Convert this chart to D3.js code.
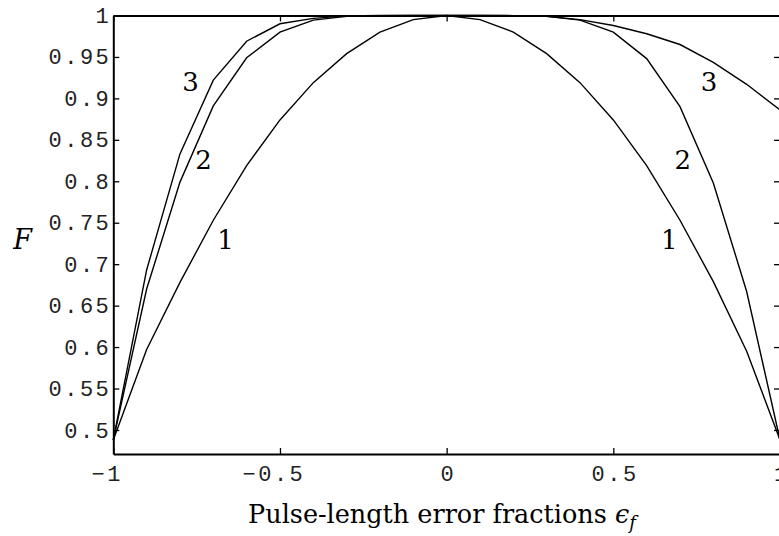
<!DOCTYPE html>
<html>
<head>
<meta charset="utf-8">
<script src="https://cdn.jsdelivr.net/npm/d3@7"></script>
<style>
  html, body { margin: 0; padding: 0; background: #fff; }
  svg { display: block; }
</style>
</head>
<body>
<svg id="chart" width="779" height="536"></svg>
<script>
// ---- data ----
const epsValues = [-1, -0.9, -0.8, -0.7, -0.6, -0.5, -0.4, -0.3, -0.2, -0.1, 0,
                   0.1, 0.2, 0.3, 0.4, 0.5, 0.6, 0.7, 0.8, 0.9, 1];
const fidelity1 = [0.488, 0.597, 0.678, 0.753, 0.819, 0.874, 0.919, 0.954, 0.980, 0.995, 1,
                   0.995, 0.980, 0.954, 0.919, 0.874, 0.819, 0.753, 0.679, 0.595, 0.488];
const fidelity2 = [0.488, 0.670, 0.799, 0.891, 0.949, 0.980, 0.9944, 0.999, 0.9999, 1, 1,
                   1, 0.9999, 0.999, 0.9944, 0.980, 0.948, 0.890, 0.798, 0.667, 0.488];
const fidelity3 = [0.488, 0.693, 0.833, 0.922, 0.969, 0.990, 0.9965, 0.9995, 1, 1, 1,
                   1, 0.9998, 0.999, 0.995, 0.988, 0.978, 0.965, 0.9435, 0.917, 0.886];
const seriesNames = ["1", "2", "3"];
const xTickValues = [-1, -0.5, 0, 0.5, 1];
const xTickLabels = ["\u22121", "\u22120.5", "0", "0.5", "1"];
const yTickValues = [0.5, 0.55, 0.6, 0.65, 0.7, 0.75, 0.8, 0.85, 0.9, 0.95, 1];
const yTickLabels = ["0.5", "0.55", "0.6", "0.65", "0.7", "0.75", "0.8", "0.85", "0.9", "0.95", "1"];
// curve label anchor points (data coordinates)
const labelLeftX = [-0.663, -0.729, -0.768];
const labelLeftY = [0.729, 0.826, 0.920];
const labelRightX = [0.668, 0.708, 0.787];
const labelRightY = [0.729, 0.826, 0.920];
const xAxisTitle = "Pulse-length error fractions ";
const yAxisTitle = "F";

// ---- layout ----
(function () {
const svg = d3.select("#chart");
const pLeft = 113.3, pRight = 780, pTop = 15.5, pBottom = 454;
const x = d3.scaleLinear().domain([-1, 1]).range([pLeft, pRight]);
const y = d3.scaleLinear().domain([0.471, 1]).range([pBottom, pTop]);

const tickFont = "'Liberation Mono', 'Courier New', monospace";
const tickSize = "22px", tickSpacing = 2.5;
const serif = "'DejaVu Serif', serif";

// curves
const series = [fidelity1, fidelity2, fidelity3];
const line = d3.line().x((d, i) => x(epsValues[i])).y(d => y(d));
svg.append("g").selectAll("path").data(series).join("path")
  .attr("d", d => line(d))
  .attr("fill", "none").attr("stroke", "#000").attr("stroke-width", 1.4)
  .attr("stroke-linejoin", "miter");

// axes
function styleAxis(g) {
  g.select(".domain").attr("stroke", "#000").attr("stroke-width", 2);
  g.selectAll(".tick line").attr("stroke", "#000").attr("stroke-width", 1.3);
  g.selectAll(".tick text")
    .attr("fill", "#222")
    .style("font-family", tickFont)
    .style("font-size", tickSize)
    .style("letter-spacing", tickSpacing + "px");
}

const gx = svg.append("g").attr("transform", `translate(0,${pBottom})`)
  .call(d3.axisBottom(x).tickValues(xTickValues)
    .tickFormat((d, i) => xTickLabels[i]).tickSize(-6).tickSizeOuter(0).tickPadding(10.9))
  .call(styleAxis);

// center the numeric part, let the minus sign hang left
gx.selectAll(".tick text").each(function (d, i) {
  const t = d3.select(this);
  const lbl = xTickLabels[i];
  if (lbl.startsWith("\u2212")) {
    const tmp = gx.append("text").text(lbl.slice(1))
      .style("font-family", tickFont).style("font-size", tickSize).style("letter-spacing", tickSpacing + "px");
    const w = tmp.node().getComputedTextLength();
    tmp.remove();
    t.attr("text-anchor", "end").attr("x", (w - tickSpacing) / 2 + tickSpacing);
  } else {
    t.attr("x", tickSpacing / 2);
  }
});

svg.append("g").attr("transform", `translate(0,${pTop})`)
  .call(d3.axisTop(x).tickValues(xTickValues).tickFormat(() => "").tickSize(-6).tickSizeOuter(0))
  .call(styleAxis);

svg.append("g").attr("transform", `translate(${pLeft},0)`)
  .call(d3.axisLeft(y).tickValues(yTickValues)
    .tickFormat((d, i) => yTickLabels[i]).tickSize(-6).tickSizeOuter(0).tickPadding(2))
  .call(styleAxis);

svg.append("g").attr("transform", `translate(${pRight},0)`)
  .call(d3.axisRight(y).tickValues(yTickValues).tickFormat(() => "").tickSize(-6).tickSizeOuter(0))
  .call(styleAxis);

// curve labels
const labelG = svg.append("g")
  .style("font-family", serif).style("font-size", "26px").attr("fill", "#000")
  .attr("text-anchor", "middle");
seriesNames.forEach((n, i) => {
  labelG.append("text").attr("x", x(labelLeftX[i])).attr("y", y(labelLeftY[i]))
    .attr("dy", "0.36em").text(n);
  labelG.append("text").attr("x", x(labelRightX[i])).attr("y", y(labelRightY[i]))
    .attr("dy", "0.36em").text(n);
});

// y axis title
svg.append("text").attr("x", 22.7).attr("y", 239.3).attr("dy", "0.36em")
  .attr("text-anchor", "middle")
  .style("font-family", serif).style("font-size", "27px").style("font-style", "italic")
  .text(yAxisTitle);

// x axis title
const xt = svg.append("text").attr("x", 442).attr("y", 523)
  .attr("text-anchor", "middle")
  .style("font-family", serif).style("font-size", "25.5px");
xt.append("tspan").text(xAxisTitle);
xt.append("tspan").style("font-style", "italic").text("\u03F5");
xt.append("tspan").style("font-style", "italic").style("font-size", "18px")
  .attr("dy", 6).text("f");
})();
</script>
</body>
</html>
